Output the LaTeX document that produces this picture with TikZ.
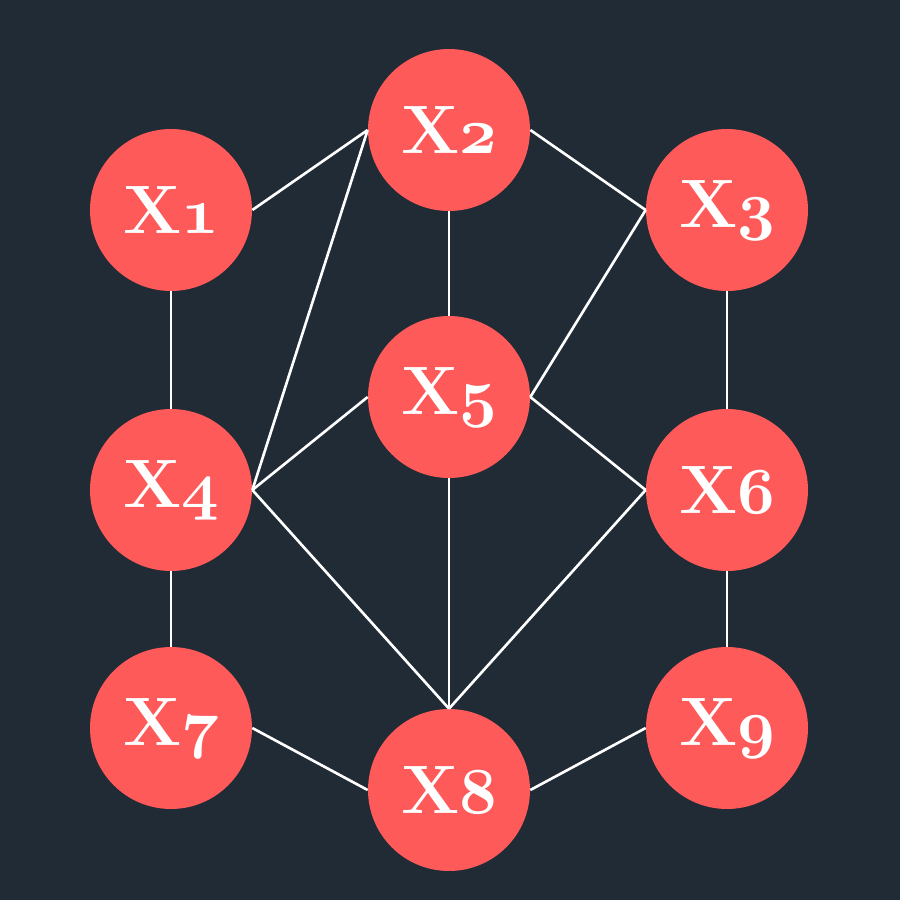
\documentclass[tikz,border=0pt]{standalone}
\usepackage{fontspec}
\usepackage{graphicx}
\definecolor{bgc}{RGB}{32,43,54}
\definecolor{nodec}{RGB}{255,90,90}
\newcommand{\osn}[1]{\scalebox{1.5}{\fontencoding{OML}\fontfamily{cmm}\fontseries{b}\fontshape{it}\fontsize{24.88}{26}\selectfont #1}}
\begin{document}
\begin{tikzpicture}[x=0.02cm,y=-0.02cm,
  vert/.style={circle,fill=nodec,draw=none,minimum size=3.24cm,inner sep=0pt,
    text=white,font=\fontsize{39}{42}\selectfont\bfseries},
  edge/.style={draw=white,line width=1.5pt}]
\fill[bgc] (0,0) rectangle (900,900);
\useasboundingbox (0,0) rectangle (900,900);
\node[vert] (x1) at (171,210) {X\osn{1}};
\node[vert] (x2) at (449,130) {X\osn{2}};
\node[vert] (x3) at (727,210) {X\osn{3}};
\node[vert] (x4) at (171,490) {X\osn{4}};
\node[vert] (x5) at (449,397) {X\osn{5}};
\node[vert] (x6) at (727,490) {X\osn{6}};
\node[vert] (x7) at (171,728) {X\osn{7}};
\node[vert] (x8) at (449,790) {X\osn{8}};
\node[vert] (x9) at (727,728) {X\osn{9}};
\draw[edge] (x1.east) -- (x2.west);
\draw[edge] (x2.west) -- (x4.east);
\draw[edge] (x2.east) -- (x3.west);
\draw[edge] (x2.south) -- (x5.north);
\draw[edge] (x3.west) -- (x5.east);
\draw[edge] (x1.south) -- (x4.north);
\draw[edge] (x3.south) -- (x6.north);
\draw[edge] (x4.east) -- (x5.west);
\draw[edge] (x5.east) -- (x6.west);
\draw[edge] (x4.east) -- (x8.north);
\draw[edge] (x5.south) -- (x8.north);
\draw[edge] (x6.west) -- (x8.north);
\draw[edge] (x4.south) -- (x7.north);
\draw[edge] (x6.south) -- (x9.north);
\draw[edge] (x7.east) -- (x8.west);
\draw[edge] (x8.east) -- (x9.west);
\end{tikzpicture}
\end{document}
